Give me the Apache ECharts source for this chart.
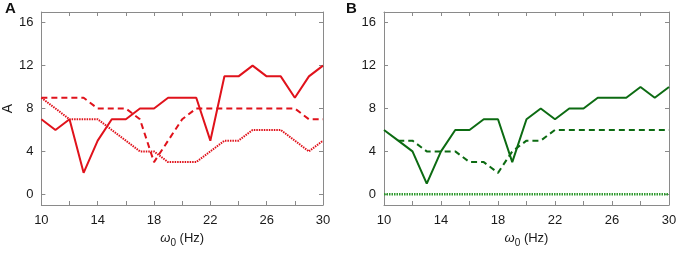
<!DOCTYPE html>
<html>
<head>
<meta charset="utf-8">
<script src="https://cdn.jsdelivr.net/npm/echarts@6/dist/echarts.min.js"></script>
<style>
  html, body { margin: 0; padding: 0; background: #fff; }
  #chart { width: 680px; height: 253px; }
</style>
</head>
<body>
<div id="chart"></div>
<script>
// 频率 (Hz)
var freqs = [10, 11, 12, 13, 14, 15, 16, 17, 18, 19, 20, 21, 22, 23, 24, 25, 26, 27, 28, 29, 30];

// A 图 (红)
var redSolid  = [7, 6, 7, 2, 5, 7, 7, 8, 8, 9, 9, 9, 5, 11, 11, 12, 11, 11, 9, 11, 12];
var redDashed = [9, 9, 9, 9, 8, 8, 8, 7, 3, 5, 7, 8, 8, 8, 8, 8, 8, 8, 8, 7, 7];
var redDotted = [9, 8, 7, 7, 7, 6, 5, 4, 4, 3, 3, 3, 4, 5, 5, 6, 6, 6, 5, 4, 5];

// B 图 (绿)
var greenSolid  = [6, 5, 4, 1, 4, 6, 6, 7, 7, 3, 7, 8, 7, 8, 8, 9, 9, 9, 10, 9, 10];
var greenDashed = [null, 5, 5, 4, 4, 4, 3, 3, 2, 4, 5, 5, 6, 6, 6, 6, 6, 6, 6, 6, 6];
var greenDotted = [0, 0, 0, 0, 0, 0, 0, 0, 0, 0, 0, 0, 0, 0, 0, 0, 0, 0, 0, 0, 0];

// 刻度
var xLabels = [10, 14, 18, 22, 26, 30];
var yTicks = [0, 4, 8, 12, 16];

var RED = '#e0121b';
var GREEN = '#0c6b12';
var GREEN_DOT = '#2f9a2f';
var AXIS = '#8a8a8a';
var FONT = 'Liberation Sans';

function pairs(ys) {
	return freqs.map(function (x, i) { return [x, ys[i]]; });
}

function xAxisCfg(gi, pos, showLabel) {
	return {
		type: 'value', gridIndex: gi, position: pos,
		min: 10, max: 30, interval: 2,
		axisLine: { show: true, onZero: false, lineStyle: { color: AXIS, width: 1 } },
		axisTick: { show: true, inside: true, length: 4, lineStyle: { color: AXIS } },
		axisLabel: {
			show: showLabel, customValues: xLabels, margin: 9,
			color: '#1a1a1a', fontSize: 13, fontFamily: FONT
		},
		splitLine: { show: false },
		name: showLabel ? '{w|ω}{s|0}{n| (Hz)}' : '',
		nameLocation: 'middle', nameGap: 24,
		nameTextStyle: {
			color: '#1a1a1a', fontFamily: FONT,
			rich: {
				w: { fontSize: 13, fontFamily: FONT, fontStyle: 'italic', color: '#1a1a1a' },
				s: { fontSize: 10, fontFamily: FONT, color: '#1a1a1a', padding: [9, 0, 0, 0] },
				n: { fontSize: 13, fontFamily: FONT, color: '#1a1a1a' }
			}
		}
	};
}

function yAxisCfg(gi, pos, showLabel, name) {
	return {
		type: 'value', gridIndex: gi, position: pos,
		min: -1, max: 17,
		axisLine: { show: true, onZero: false, lineStyle: { color: AXIS, width: 1 } },
		axisTick: { show: true, inside: true, length: 4, customValues: yTicks, lineStyle: { color: AXIS } },
		axisLabel: {
			show: showLabel, customValues: yTicks, margin: 8,
			color: '#1a1a1a', fontSize: 13, fontFamily: FONT
		},
		splitLine: { show: false },
		name: name || '',
		nameLocation: 'middle', nameGap: 24, nameRotate: 90,
		nameTextStyle: { color: '#1a1a1a', fontSize: 14, fontFamily: FONT }
	};
}

function line(xi, data, color, type, width) {
	return {
		type: 'line', xAxisIndex: xi, yAxisIndex: xi,
		data: pairs(data), symbol: 'none', silent: true,
		connectNulls: false,
		lineStyle: { color: color, width: width || 2, type: type }
	};
}

var myChart = echarts.init(document.getElementById('chart'), null, { renderer: 'canvas' });

var option = {
	animation: false,
	backgroundColor: '#fff',
	grid: [
		{ left: 39, top: 12, width: 284, height: 200 },
		{ left: 384, top: 12, width: 285, height: 200 }
	],
	xAxis: [
		xAxisCfg(0, 'bottom', true),
		xAxisCfg(1, 'bottom', true),
		xAxisCfg(0, 'top', false),
		xAxisCfg(1, 'top', false)
	],
	yAxis: [
		yAxisCfg(0, 'left', true, 'A'),
		yAxisCfg(1, 'left', true, ''),
		yAxisCfg(0, 'right', false, ''),
		yAxisCfg(1, 'right', false, '')
	],
	graphic: [
		{ type: 'text', left: 5, top: 1, style: { text: 'A', font: 'bold 15px "Liberation Sans"', fill: '#111' } },
		{ type: 'text', left: 346, top: 1, style: { text: 'B', font: 'bold 15px "Liberation Sans"', fill: '#111' } }
	],
	series: [
		line(0, redDotted, RED, [1.5, 1], 2),
		line(0, redDashed, RED, [6, 4], 2),
		line(0, redSolid, RED, 'solid', 2),
		line(1, greenDotted, GREEN_DOT, [1.5, 1], 2.5),
		line(1, greenDashed, GREEN, [6, 4], 2),
		line(1, greenSolid, GREEN, 'solid', 2)
	]
};

myChart.setOption(option);
</script>
</body>
</html>
